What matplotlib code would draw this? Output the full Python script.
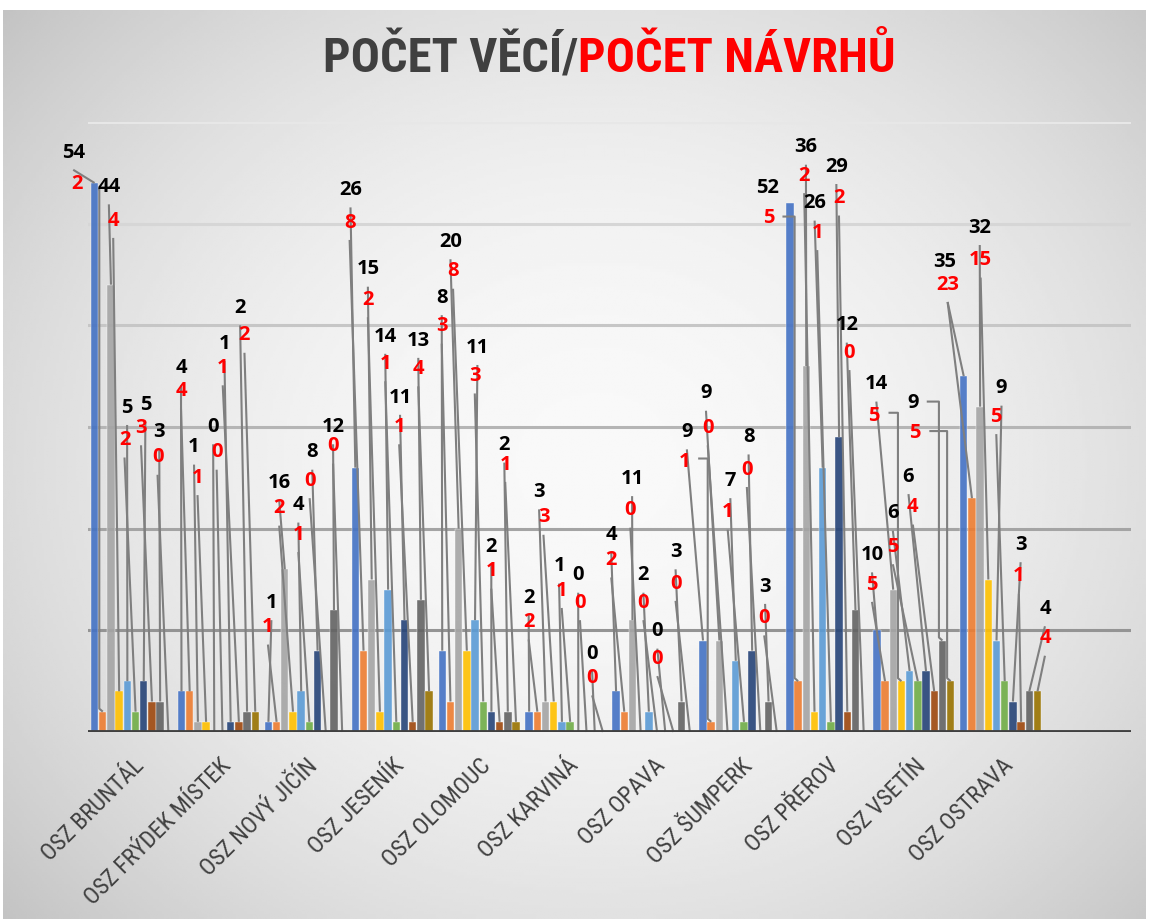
import numpy as np
import matplotlib
matplotlib.use('Agg')
import matplotlib.pyplot as plt
from matplotlib import font_manager

# Kategorie (okresni statni zastupitelstvi)
kategorie = ['OSZ BRUNTÁL', 'OSZ FRÝDEK MÍSTEK', 'OSZ NOVÝ JIČÍN', 'OSZ JESENÍK', 'OSZ OLOMOUC',
             'OSZ KARVINÁ', 'OSZ OPAVA', 'OSZ ŠUMPERK', 'OSZ PŘEROV', 'OSZ VSETÍN', 'OSZ OSTRAVA']

# pocet veci (cerne popisky), 5 dvojic v kazde kategorii
pocet_veci = [
    [54, 44, 5, 5, 3],
    [4, 1, 0, 1, 2],
    [1, 16, 4, 8, 12],
    [26, 15, 14, 11, 13],
    [8, 20, 11, 2, 2],
    [2, 3, 1, 0, 0],
    [4, 11, 2, 0, 3],
    [9, 9, 7, 8, 3],
    [52, 36, 26, 29, 12],
    [10, 14, 6, 6, 9],
    [35, 32, 9, 3, 4],
]

# pocet navrhu (cervene popisky)
pocet_navrhu = [
    [2, 4, 2, 3, 0],
    [4, 1, 0, 1, 2],
    [1, 2, 1, 0, 0],
    [8, 2, 1, 1, 4],
    [3, 8, 3, 1, 1],
    [2, 3, 1, 0, 0],
    [2, 0, 0, 0, 0],
    [1, 0, 1, 0, 0],
    [5, 2, 1, 2, 0],
    [5, 5, 5, 4, 5],
    [23, 15, 5, 1, 4],
]

# rucne posunute popisky (x v jednotkach kategorii, y v hodnotach osy)
pozice_cerne = [
    [(-0.67, 57.0), (-0.26, 53.6), (-0.05, 31.9), (0.16, 32.2), (0.32, 29.5)],
    [(0.57, 35.8), (0.72, 28.0), (0.94, 30.0), (1.07, 38.2), (1.25, 41.7)],
    [(1.61, 12.7), (1.70, 24.5), (1.92, 22.3), (2.08, 27.5), (2.32, 30.0)],
    [(2.52, 53.3), (2.72, 45.5), (2.92, 38.9), (3.09, 32.9), (3.30, 38.5)],
    [(3.57, 42.7), (3.67, 48.2), (3.98, 37.8), (4.14, 18.2), (4.29, 28.2)],
    [(4.57, 13.2), (4.69, 23.6), (4.92, 16.3), (5.14, 15.4), (5.30, 7.7)],
    [(5.52, 19.4), (5.76, 24.9), (5.89, 15.4), (6.05, 9.9), (6.26, 17.7)],
    [(6.39, 29.5), (6.61, 33.3), (6.89, 24.7), (7.10, 29.0), (7.29, 14.3)],
    [(7.32, 53.5), (7.76, 57.5), (7.86, 52.0), (8.11, 55.6), (8.23, 40.0)],
    [(8.52, 17.4), (8.57, 34.2), (8.76, 21.5), (8.94, 25.1), (8.99, 32.4)],
    [(9.36, 46.2), (9.76, 49.6), (10.01, 33.8), (10.23, 18.4), (10.51, 12.1)],
]
pozice_cervene = [
    [(-0.63, 53.9), (-0.21, 50.3), (-0.08, 28.7), (0.11, 29.9), (0.30, 27.0)],
    [(0.57, 33.5), (0.76, 25.0), (0.98, 27.5), (1.05, 35.8), (1.30, 39.0)],
    [(1.57, 10.3), (1.70, 22.0), (1.92, 19.4), (2.05, 24.7), (2.32, 28.1)],
    [(2.51, 50.1), (2.72, 42.5), (2.92, 36.2), (3.08, 30.0), (3.30, 35.7)],
    [(3.57, 39.9), (3.70, 45.3), (3.95, 35.0), (4.14, 15.8), (4.30, 26.3)],
    [(4.57, 10.8), (4.74, 21.1), (4.95, 13.9), (5.16, 12.7), (5.30, 5.3)],
    [(5.52, 16.9), (5.74, 21.8), (5.89, 12.7), (6.05, 7.2), (6.26, 14.6)],
    [(6.36, 26.6), (6.63, 29.9), (6.86, 21.6), (7.08, 25.8), (7.28, 11.2)],
    [(7.33, 50.6), (7.74, 54.7), (7.89, 49.1), (8.14, 52.5), (8.26, 37.3)],
    [(8.52, 14.5), (8.54, 31.1), (8.76, 18.2), (8.99, 22.1), (9.01, 29.4)],
    [(9.39, 44.0), (9.77, 46.4), (9.95, 31.0), (10.21, 15.3), (10.51, 9.2)],
]

# odkazove cary se zlomem (kategorie, dvojice, 0=cerny/1=cerveny) -> zacatek cary
zlomene_cary = {
    (0, 0, 1): (-0.38, 53.4),
    (7, 0, 1): (6.52, 26.9),
    (8, 0, 1): (7.49, 50.7),
    (9, 1, 1): (8.71, 31.4),
    (9, 4, 0): (9.15, 32.5),
    (9, 4, 1): (9.18, 29.6),
}
# odlisny zacatek rovne cary
zacatky = {
    (10, 0, 0): (9.39, 42.3),
}
bez_cary = {(8, 0, 0)}

barvy = ['#4472C4', '#ED7D31', '#A5A5A5', '#FFC000', '#5B9BD5',
         '#70AD47', '#264478', '#9E480E', '#636363', '#997300']


def vyber_font(*jmena):
    dostupne = {f.name for f in font_manager.fontManager.ttflist}
    for j in jmena:
        if j in dostupne:
            return j
    return 'DejaVu Sans'


uzky = vyber_font('Liberation Sans Narrow', 'Roboto Condensed', 'Liberation Sans')
cisla = vyber_font('Open Sans', 'Lato', 'DejaVu Sans')

W, H = 1149, 919
fig = plt.figure(figsize=(W / 100, H / 100), dpi=100)
fig.patch.set_facecolor('white')

# pozadi s radialnim prechodem
bg = fig.add_axes([3 / W, 0, 1143 / W, 909 / H])
yy, xx = np.mgrid[0:1:300j, 0:1:400j]
r2 = ((xx - 0.52) / 0.5) ** 2 + ((yy - 0.5) / 0.55) ** 2
grad = np.clip(0.975 - 0.11 * r2, 0, 1)
bg.imshow(grad, cmap='gray', vmin=0, vmax=1, aspect='auto', extent=[0, 1, 0, 1])
bg.set_axis_off()

ax = fig.add_axes([88 / W, 187 / H, (1131 - 88) / W, 610 / H])
ax.patch.set_alpha(0)
ax.set_xlim(-0.5, 11.5)
ax.set_ylim(0, 60)

# mrizka - tmavsi dole, svetlejsi nahore
for i, g in enumerate(range(10, 70, 10)):
    c = 0.58 + 0.065 * i
    ax.axhline(g, color=(c, c, c), lw=2.2, zorder=1)
ax.axhline(0, color='#404040', lw=3.5, zorder=5)

krok = 0.0943
sirka = 0.085
for ci in range(len(kategorie)):
    for k in range(5):
        for j, hodnota in enumerate([pocet_veci[ci][k], pocet_navrhu[ci][k]]):
            s = 2 * k + j
            x = ci + (s - 4.5) * krok
            ax.bar(x, hodnota, width=sirka, color=barvy[s], alpha=0.9, zorder=2,
                   edgecolor='white', linewidth=0.3)
            if j == 0:
                lx, ly = pozice_cerne[ci][k]
                barva_txt = 'black'
            else:
                lx, ly = pozice_cervene[ci][k]
                barva_txt = '#FF0000'
            klic = (ci, k, j)
            if klic in zlomene_cary:
                sx, sy = zlomene_cary[klic]
                xs, ys = [sx, x - 0.04, x - 0.04, x], [sy, sy, hodnota + 0.3, hodnota]
            elif klic in zacatky:
                sx, sy = zacatky[klic]
                xs, ys = [sx, x], [sy, hodnota]
            else:
                xs, ys = [lx, x], [ly - 1.7, hodnota]
            if klic not in bez_cary:
                ax.plot(xs, ys, color='#7f7f7f', lw=1.5, zorder=3,
                        solid_capstyle='butt', clip_on=False)
            ax.text(lx, ly, str(hodnota), color=barva_txt, fontsize=14.5,
                    fontweight='bold', family=[cisla, 'DejaVu Sans'],
                    ha='center', va='center', zorder=4, clip_on=False)

for ci, nazev in enumerate(kategorie):
    ax.text(ci + 0.1, -3.0, nazev, rotation=45, rotation_mode='anchor',
            ha='right', va='center', fontsize=17, color='#404040',
            family=[uzky, 'DejaVu Sans'])

ax.set_xticks([])
ax.set_yticks([])
for sp in ax.spines.values():
    sp.set_visible(False)

# nadpis ve dvou barvach
split = 578 / W
fig.text(split, 1 - 72 / H, 'POČET VĚCÍ/', ha='right', va='baseline',
         fontsize=35, fontweight='bold', color='#404040', family=[uzky, 'DejaVu Sans'])
fig.text(split, 1 - 72 / H, 'POČET NÁVRHŮ', ha='left', va='baseline',
         fontsize=35, fontweight='bold', color='#FF0000', family=[uzky, 'DejaVu Sans'])

fig.savefig('out.png', dpi=100)
